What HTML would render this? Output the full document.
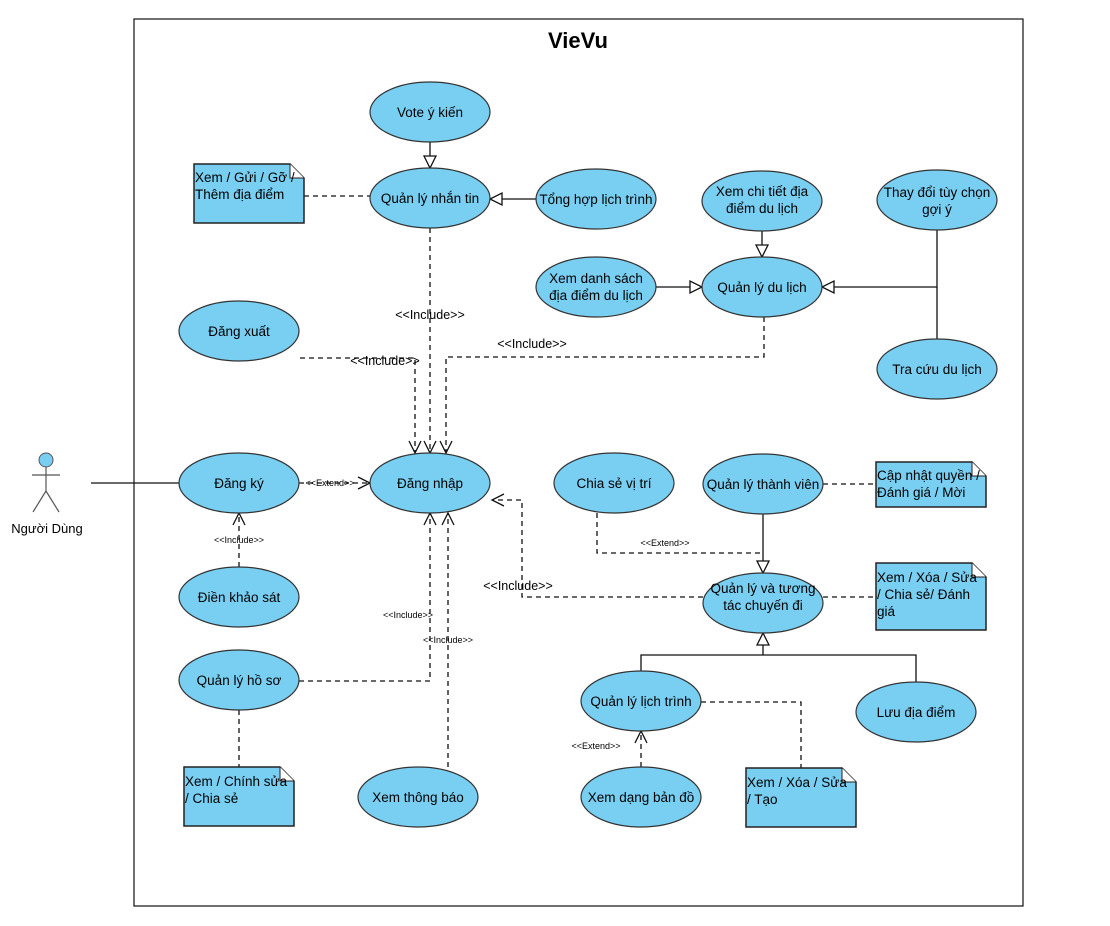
<!DOCTYPE html>
<html><head><meta charset="utf-8"><style>
html,body{margin:0;padding:0;background:#fff;}
svg{display:block;}
text{font-family:"Liberation Sans",sans-serif;fill:#000;}
.e{fill:#79CFF2;stroke:#333;stroke-width:1.2;}
.n{fill:#79CFF2;stroke:#222;stroke-width:1.5;}
.s{stroke:#111;stroke-width:1.3;fill:none;}
.d{stroke:#111;stroke-width:1.3;fill:none;stroke-dasharray:5,4;}
.t{fill:#fff;stroke:#111;stroke-width:1.3;}
.l{font-size:13.5px;text-anchor:middle;}
.nt{font-size:13.5px;}
.sm{font-size:9px;text-anchor:middle;}
.md{font-size:12.5px;text-anchor:middle;}
</style></head><body>
<svg width="1110" height="926" viewBox="0 0 1110 926" xmlns="http://www.w3.org/2000/svg">
<rect x="134" y="19" width="889" height="887" fill="#fff" stroke="#111" stroke-width="1.2"/>
<text x="578" y="48" style="font-size:22px;font-weight:bold;text-anchor:middle">VieVu</text>

<!-- actor -->
<circle cx="46" cy="460" r="7" fill="#79CFF2" stroke="#555"/>
<line x1="46" y1="467" x2="46" y2="491" stroke="#555" stroke-width="1.2"/>
<line x1="32" y1="475" x2="60" y2="475" stroke="#555" stroke-width="1.2"/>
<line x1="46" y1="491" x2="33" y2="512" stroke="#555" stroke-width="1.2"/>
<line x1="46" y1="491" x2="59" y2="512" stroke="#555" stroke-width="1.2"/>
<text x="47" y="533" class="l" style="font-size:13px">Người Dùng</text>
<line x1="91" y1="483" x2="179" y2="483" class="s"/>

<!-- connectors -->
<line x1="430" y1="142" x2="430" y2="156" class="s"/>
<polygon points="424,156 436,156 430,168" class="t"/>
<line x1="536" y1="199" x2="502" y2="199" class="s"/>
<polygon points="502,193 502,205 490,199" class="t"/>
<line x1="304" y1="196" x2="370" y2="196" class="d"/>
<line x1="430" y1="228" x2="430" y2="452" class="d"/>
<polyline points="424,441 430,453 436,441" class="s"/>
<text x="430" y="319" class="md">&lt;&lt;Include&gt;&gt;</text>
<polyline points="300,358 415,358 415,452" class="d"/>
<polyline points="409,441 415,453 421,441" class="s"/>
<text x="385" y="365" class="md">&lt;&lt;Include&gt;&gt;</text>
<polyline points="764,317 764,357 446,357 446,452" class="d"/>
<polyline points="440,441 446,453 452,441" class="s"/>
<text x="532" y="348" class="md">&lt;&lt;Include&gt;&gt;</text>
<line x1="762" y1="231" x2="762" y2="245" class="s"/>
<polygon points="756,245 768,245 762,257" class="t"/>
<line x1="656" y1="287" x2="690" y2="287" class="s"/>
<polygon points="690,281 690,293 702,287" class="t"/>
<polyline points="937,230 937,287 834,287" class="s"/>
<line x1="937" y1="339" x2="937" y2="287" class="s"/>
<polygon points="834,281 834,293 822,287" class="t"/>

<line x1="299" y1="483" x2="369" y2="483" class="d"/>
<polyline points="358,477 370,483 358,489" class="s"/>
<text x="330" y="486" class="sm">&lt;&lt;Extend&gt;&gt;</text>
<line x1="239" y1="567" x2="239" y2="514" class="d"/>
<polyline points="233,525 239,513 245,525" class="s"/>
<text x="239" y="543" class="sm">&lt;&lt;Include&gt;&gt;</text>
<polyline points="299,681 430,681 430,514" class="d"/>
<polyline points="424,525 430,513 436,525" class="s"/>
<text x="408" y="618" class="sm">&lt;&lt;Include&gt;&gt;</text>
<line x1="448" y1="767" x2="448" y2="514" class="d"/>
<polyline points="442,525 448,513 454,525" class="s"/>
<text x="448" y="643" class="sm">&lt;&lt;Include&gt;&gt;</text>
<polyline points="703,597 522,597 522,500 493,500" class="d"/>
<polyline points="504,494 492,500 504,506" class="s"/>
<text x="518" y="590" class="md">&lt;&lt;Include&gt;&gt;</text>
<polyline points="597,513 597,553 762,553" class="d"/>
<text x="665" y="546" class="sm">&lt;&lt;Extend&gt;&gt;</text>
<line x1="763" y1="514" x2="763" y2="561" class="s"/>
<polygon points="757,561 769,561 763,573" class="t"/>
<line x1="823" y1="484" x2="876" y2="484" class="d"/>
<line x1="823" y1="597" x2="876" y2="597" class="d"/>
<polyline points="641,671 641,655 916,655 916,682" class="s"/>
<line x1="763" y1="655" x2="763" y2="645" class="s"/>
<polygon points="757,645 769,645 763,633" class="t"/>
<polyline points="701,702 801,702 801,768" class="d"/>
<line x1="641" y1="767" x2="641" y2="732" class="d"/>
<polyline points="635,743 641,731 647,743" class="s"/>
<text x="596" y="749" class="sm">&lt;&lt;Extend&gt;&gt;</text>
<line x1="239" y1="710" x2="239" y2="767" class="d"/>

<!-- ellipses -->
<g>
<ellipse class="e" cx="430" cy="112" rx="60" ry="30"/><text class="l" x="430" y="117">Vote ý kiến</text>
<ellipse class="e" cx="430" cy="198" rx="60" ry="30"/><text class="l" x="430" y="203">Quản lý nhắn tin</text>
<ellipse class="e" cx="596" cy="199" rx="60" ry="30"/><text class="l" x="596" y="204">Tổng hợp lịch trình</text>
<ellipse class="e" cx="762" cy="201" rx="60" ry="30"/><text class="l" x="762" y="196">Xem chi tiết địa</text><text class="l" x="762" y="213">điểm du lịch</text>
<ellipse class="e" cx="937" cy="200" rx="60" ry="30"/><text class="l" x="937" y="197">Thay đổi tùy chọn</text><text class="l" x="937" y="214">gợi ý</text>
<ellipse class="e" cx="596" cy="287" rx="60" ry="30"/><text class="l" x="596" y="283">Xem danh sách</text><text class="l" x="596" y="300">địa điểm du lịch</text>
<ellipse class="e" cx="762" cy="287" rx="60" ry="30"/><text class="l" x="762" y="292">Quản lý du lịch</text>
<ellipse class="e" cx="937" cy="369" rx="60" ry="30"/><text class="l" x="937" y="374">Tra cứu du lịch</text>
<ellipse class="e" cx="239" cy="331" rx="60" ry="30"/><text class="l" x="239" y="336">Đăng xuất</text>
<ellipse class="e" cx="239" cy="483" rx="60" ry="30"/><text class="l" x="239" y="488">Đăng ký</text>
<ellipse class="e" cx="430" cy="483" rx="60" ry="30"/><text class="l" x="430" y="488">Đăng nhập</text>
<ellipse class="e" cx="614" cy="483" rx="60" ry="30"/><text class="l" x="614" y="488">Chia sẻ vị trí</text>
<ellipse class="e" cx="763" cy="484" rx="60" ry="30"/><text class="l" x="763" y="489">Quản lý thành viên</text>
<ellipse class="e" cx="239" cy="597" rx="60" ry="30"/><text class="l" x="239" y="602">Điền khảo sát</text>
<ellipse class="e" cx="763" cy="603" rx="60" ry="30"/><text class="l" x="763" y="593">Quản lý và tương</text><text class="l" x="763" y="610">tác chuyến đi</text>
<ellipse class="e" cx="239" cy="680" rx="60" ry="30"/><text class="l" x="239" y="685">Quản lý hồ sơ</text>
<ellipse class="e" cx="641" cy="701" rx="60" ry="30"/><text class="l" x="641" y="706">Quản lý lịch trình</text>
<ellipse class="e" cx="916" cy="712" rx="60" ry="30"/><text class="l" x="916" y="717">Lưu địa điểm</text>
<ellipse class="e" cx="418" cy="797" rx="60" ry="30"/><text class="l" x="418" y="802">Xem thông báo</text>
<ellipse class="e" cx="641" cy="797" rx="60" ry="30"/><text class="l" x="641" y="802">Xem dạng bản đồ</text>
</g>

<!-- notes -->
<g>
<path class="n" d="M194,164 H290 L304,178 V223 H194 Z"/><path d="M290,164 V178 H304" fill="#fff" stroke="#222"/>
<text class="nt" x="195" y="182">Xem / Gửi / Gỡ /</text><text class="nt" x="195" y="199">Thêm địa điểm</text>

<path class="n" d="M876,462 H972 L986,476 V507 H876 Z"/><path d="M972,462 V476 H986" fill="#fff" stroke="#222"/>
<text class="nt" x="877" y="480">Cập nhật quyền /</text><text class="nt" x="877" y="497">Đánh giá / Mời</text>

<path class="n" d="M876,563 H972 L986,577 V630 H876 Z"/><path d="M972,563 V577 H986" fill="#fff" stroke="#222"/>
<text class="nt" x="877" y="582">Xem / Xóa / Sửa</text><text class="nt" x="877" y="599">/ Chia sẻ/ Đánh</text><text class="nt" x="877" y="616">giá</text>

<path class="n" d="M184,767 H280 L294,781 V826 H184 Z"/><path d="M280,767 V781 H294" fill="#fff" stroke="#222"/>
<text class="nt" x="185" y="786">Xem / Chính sửa</text><text class="nt" x="185" y="803">/ Chia sẻ</text>

<path class="n" d="M746,768 H842 L856,782 V827 H746 Z"/><path d="M842,768 V782 H856" fill="#fff" stroke="#222"/>
<text class="nt" x="747" y="787">Xem / Xóa / Sửa</text><text class="nt" x="747" y="804">/ Tạo</text>
</g>
</svg>
</body></html>
